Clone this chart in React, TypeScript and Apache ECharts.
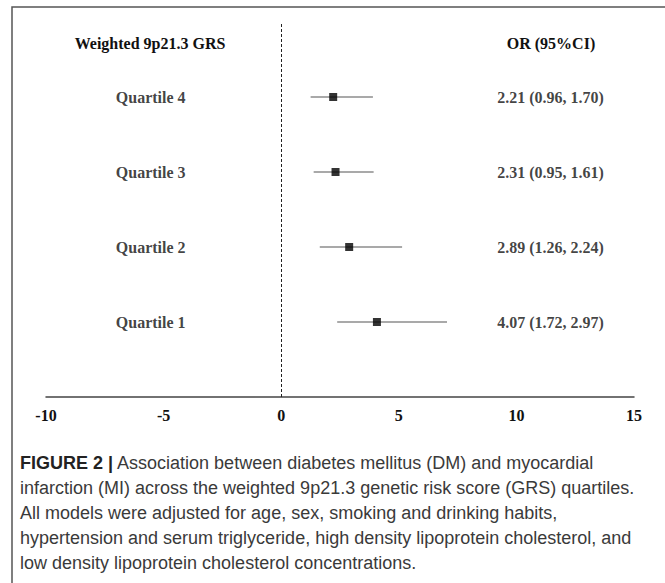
import React, { useEffect, useRef } from "react";
import * as echarts from "echarts";

const quartiles = ["Quartile 4", "Quartile 3", "Quartile 2", "Quartile 1"];
const rowPos = [4, 3, 2, 1];
const orValues = [2.21, 2.31, 2.89, 4.07];
const ciLower = [1.25, 1.38, 1.64, 2.38];
const ciUpper = [3.9, 3.93, 5.14, 7.05];
const orLabels = [
  "2.21 (0.96, 1.70)",
  "2.31 (0.95, 1.61)",
  "2.89 (1.26, 2.24)",
  "4.07 (1.72, 2.97)",
];
const headerLeft = "Weighted 9p21.3 GRS";
const headerRight = "OR (95%CI)";
const captionBold = "FIGURE 2 |";
const captionLines = [
  " Association between diabetes mellitus (DM) and myocardial",
  "infarction (MI) across the weighted 9p21.3 genetic risk score (GRS) quartiles.",
  "All models were adjusted for age, sex, smoking and drinking habits,",
  "hypertension and serum triglyceride, high density lipoprotein cholesterol, and",
  "low density lipoprotein cholesterol concentrations.",
];

const SERIF = "'Liberation Serif', 'Times New Roman', serif";
const SANS = "'Liberation Sans', Arial, sans-serif";
const LABEL_COL_X = -5.55;
const OR_COL_X = 11.45;
const SERIF_SIZE = 16;
const CAP_SIZE = 18;

export default function App() {
  const ref = useRef<HTMLDivElement>(null);
  useEffect(() => {
    if (!ref.current) return;
    const chart = echarts.init(ref.current, null, { renderer: "svg" });
    const captionGraphics: any[] = [
      {
        type: "text",
        x: 20,
        y: 463,
        style: {
          text: "{b|" + captionBold + "}{n|" + captionLines[0] + "}",
          verticalAlign: "middle",
          rich: {
            b: { font: `bold ${CAP_SIZE}px ${SANS}`, fill: "#222" },
            n: { font: `${CAP_SIZE}px ${SANS}`, fill: "#3a3a3a" },
          },
        },
      },
    ];
    for (let i = 1; i < captionLines.length; i++) {
      captionGraphics.push({
        type: "text",
        x: 20,
        y: 463 + i * 25.1,
        style: {
          text: captionLines[i],
          font: `${CAP_SIZE}px ${SANS}`,
          fill: "#3a3a3a",
          verticalAlign: "middle",
        },
      });
    }
    chart.setOption({
      animation: false,
      backgroundColor: "#fff",
      grid: { left: 46, right: 31, top: 22, bottom: 186, containLabel: false },
      xAxis: {
        type: "value",
        min: -10,
        max: 15,
        interval: 5,
        splitLine: { show: false },
        axisTick: { show: false },
        axisLine: { show: true, onZero: false, lineStyle: { color: "#444", width: 1.5 } },
        axisLabel: {
          color: "#111",
          fontFamily: SERIF,
          fontWeight: "bold",
          fontSize: SERIF_SIZE,
          margin: 10,
        },
      },
      yAxis: { type: "value", min: 0, max: 5, show: false },
      graphic: [
        {
          type: "rect",
          shape: { x: 12, y: 7, width: 700, height: 620 },
          style: { fill: "none", stroke: "#555", lineWidth: 1.5 },
        },
        {
          type: "text",
          x: 150,
          y: 43,
          style: {
            text: headerLeft,
            font: `bold ${SERIF_SIZE}px ${SERIF}`,
            fill: "#111",
            align: "center",
            verticalAlign: "middle",
          },
        },
        {
          type: "text",
          x: 551,
          y: 43,
          style: {
            text: headerRight,
            font: `bold ${SERIF_SIZE}px ${SERIF}`,
            fill: "#111",
            align: "center",
            verticalAlign: "middle",
          },
        },
        ...captionGraphics,
      ],
      series: [
        {
          type: "custom",
          renderItem: (params: any, api: any) => {
            const y = api.value(2);
            const p1 = api.coord([api.value(0), y]);
            const p2 = api.coord([api.value(1), y]);
            return {
              type: "line",
              shape: { x1: p1[0], y1: p1[1], x2: p2[0], y2: p2[1] },
              style: { stroke: "#555", lineWidth: 1.2 },
            };
          },
          data: rowPos.map((r, i) => [ciLower[i], ciUpper[i], r]),
          z: 2,
        },
        {
          type: "scatter",
          symbol: "rect",
          symbolSize: 8,
          itemStyle: { color: "#000" },
          data: rowPos.map((r, i) => [orValues[i], r]),
          z: 3,
          markLine: {
            silent: true,
            symbol: "none",
            label: { show: false },
            lineStyle: { type: [3, 2], color: "#222", width: 1 },
            data: [{ xAxis: 0 }],
          },
        },
        {
          type: "scatter",
          symbolSize: 1,
          itemStyle: { color: "rgba(0,0,0,0)" },
          data: rowPos.map((r, i) => [LABEL_COL_X, r, quartiles[i]]),
          label: {
            show: true,
            position: "inside",
            formatter: (p: any) => p.data[2],
            fontFamily: SERIF,
            fontWeight: "bold",
            fontSize: SERIF_SIZE,
            color: "#111",
          },
        },
        {
          type: "scatter",
          symbolSize: 1,
          itemStyle: { color: "rgba(0,0,0,0)" },
          data: rowPos.map((r, i) => [OR_COL_X, r, orLabels[i]]),
          label: {
            show: true,
            position: "inside",
            formatter: (p: any) => p.data[2],
            fontFamily: SERIF,
            fontWeight: "bold",
            fontSize: SERIF_SIZE,
            color: "#111",
          },
        },
      ],
    });
    return () => chart.dispose();
  }, []);
  return (
    <div
      ref={ref}
      style={{ position: "absolute", left: 0, top: 0, width: 665, height: 583 }}
    />
  );
}
